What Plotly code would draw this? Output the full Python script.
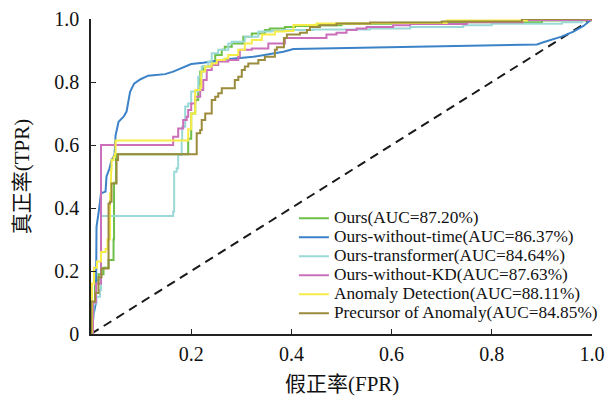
import plotly.graph_objects as go

# ---------------- data ----------------
names = [
    "Ours(AUC=87.20%)",
    "Ours-without-time(AUC=86.37%)",
    "Ours-transformer(AUC=84.64%)",
    "Ours-without-KD(AUC=87.63%)",
    "Anomaly Detection(AUC=88.11%)",
    "Precursor of Anomaly(AUC=84.85%)",
]
colors = ["#6dbf47", "#3b82c8", "#9bd9d6", "#cc6fba", "#f5ec4a", "#9b8b3c"]

ours_fpr = [0, 0.004, 0.008, 0.015, 0.025, 0.035, 0.045, 0.046, 0.05, 0.191, 0.194, 0.2, 0.208,
            0.214, 0.218, 0.224, 0.241, 0.248, 0.261, 0.267, 0.281, 0.304, 0.321, 0.347, 0.357,
            0.387, 0.407, 0.443, 0.5, 0.6, 0.75, 0.9, 1.0]
ours_tpr = [0, 0.1, 0.17, 0.19, 0.21, 0.235, 0.3, 0.48, 0.571, 0.571, 0.62, 0.7, 0.743,
            0.78, 0.833, 0.849, 0.865, 0.886, 0.902, 0.912, 0.922, 0.944, 0.954, 0.965, 0.97,
            0.975, 0.978, 0.98, 0.985, 0.988, 0.99, 0.995, 1.0]

wot_fpr = [0, 0.005, 0.01, 0.011, 0.016, 0.02, 0.029, 0.031, 0.037, 0.041, 0.047, 0.049, 0.055,
           0.065, 0.071, 0.075, 0.078, 0.086, 0.098, 0.114, 0.148, 0.164, 0.178, 0.2, 0.224,
           0.271, 0.324, 0.357, 0.384, 0.404, 0.444, 0.637, 0.89, 0.903, 0.916, 0.939, 0.963,
           0.983, 1.0]
wot_tpr = [0, 0.06, 0.1, 0.34, 0.395, 0.447, 0.452, 0.5, 0.526, 0.552, 0.568, 0.63, 0.674,
           0.69, 0.706, 0.743, 0.769, 0.795, 0.808, 0.82, 0.825, 0.833, 0.843, 0.857, 0.861,
           0.872, 0.88, 0.888, 0.896, 0.905, 0.906, 0.912, 0.919, 0.926, 0.933, 0.944, 0.96,
           0.978, 1.0]

tr_fpr = [0, 0.003, 0.005, 0.011, 0.018, 0.02, 0.162, 0.164, 0.166, 0.171, 0.174, 0.181, 0.182,
          0.188, 0.194, 0.2, 0.214, 0.221, 0.234, 0.241, 0.254, 0.274, 0.281, 0.307, 0.334,
          0.361, 0.383, 0.443, 0.557, 0.637, 0.743, 0.8, 0.94, 0.98, 1.0]
tr_tpr = [0, 0.05, 0.097, 0.118, 0.14, 0.375, 0.375, 0.389, 0.515, 0.526, 0.568, 0.616, 0.658,
          0.722, 0.732, 0.77, 0.817, 0.849, 0.865, 0.891, 0.902, 0.922, 0.928, 0.944, 0.96,
          0.963, 0.965, 0.967, 0.97, 0.975, 0.98, 0.985, 0.99, 1.0, 1.0]

kd_fpr = [0, 0.004, 0.01, 0.02, 0.162, 0.164, 0.174, 0.184, 0.191, 0.194, 0.2, 0.208, 0.218,
          0.224, 0.231, 0.241, 0.254, 0.274, 0.294, 0.297, 0.321, 0.354, 0.387, 0.47, 0.49,
          0.51, 0.53, 0.55, 0.603, 0.637, 0.75, 0.862, 1.0]
kd_tpr = [0, 0.1, 0.16, 0.6, 0.6, 0.626, 0.652, 0.679, 0.69, 0.711, 0.732, 0.753, 0.775,
          0.806, 0.838, 0.854, 0.865, 0.87, 0.88, 0.902, 0.906, 0.922, 0.94, 0.951, 0.956,
          0.965, 0.97, 0.975, 0.98, 0.984, 0.99, 0.997, 1.0]

ad_fpr = [0, 0.002, 0.006, 0.012, 0.02, 0.029, 0.033, 0.038, 0.04, 0.041, 0.045, 0.048, 0.049,
          0.184, 0.194, 0.2, 0.208, 0.218, 0.22, 0.228, 0.241, 0.251, 0.267, 0.274, 0.294,
          0.307, 0.321, 0.341, 0.367, 0.387, 0.404, 0.45, 0.557, 0.71, 0.87, 1.0]
ad_tpr = [0, 0.16, 0.21, 0.23, 0.26, 0.27, 0.3, 0.447, 0.52, 0.552, 0.563, 0.573, 0.614,
          0.614, 0.65, 0.7, 0.775, 0.785, 0.833, 0.849, 0.859, 0.87, 0.875, 0.886, 0.902,
          0.922, 0.933, 0.951, 0.96, 0.962, 0.981, 0.986, 0.987, 0.995, 1.0, 1.0]

pa_fpr = [0, 0.001, 0.008, 0.015, 0.021, 0.035, 0.038, 0.041, 0.051, 0.054, 0.211, 0.218, 0.221,
          0.228, 0.241, 0.248, 0.254, 0.261, 0.287, 0.294, 0.301, 0.307, 0.314, 0.334, 0.347,
          0.367, 0.371, 0.385, 0.391, 0.417, 0.431, 0.437, 0.457, 0.49, 0.557, 0.7, 0.86, 1.0]
pa_tpr = [0, 0.103, 0.13, 0.18, 0.208, 0.414, 0.42, 0.478, 0.552, 0.571, 0.637, 0.648, 0.679,
          0.7, 0.743, 0.753, 0.764, 0.78, 0.806, 0.817, 0.838, 0.849, 0.859, 0.87, 0.88,
          0.902, 0.91, 0.94, 0.951, 0.956, 0.965, 0.975, 0.98, 0.986, 0.989, 0.992, 1.0, 1.0]

diag_x = [0, 1]
diag_y = [0, 1]

x_ticks = [0.2, 0.4, 0.6, 0.8, 1.0]
x_ticktext = ["0.2", "0.4", "0.6", "0.8", "1.0"]
y_ticks = [0, 0.2, 0.4, 0.6, 0.8, 1.0]
y_ticktext = ["0", "0.2", "0.4", "0.6", "0.8", "1.0"]

series = [
    (ours_fpr, ours_tpr, "hv"),
    (wot_fpr, wot_tpr, "linear"),
    (tr_fpr, tr_tpr, "hv"),
    (kd_fpr, kd_tpr, "hv"),
    (ad_fpr, ad_tpr, "hv"),
    (pa_fpr, pa_tpr, "hv"),
]

SERIF = "Liberation Serif"
CJK = "Liberation Serif, Noto Sans CJK SC"

fig = go.Figure()
fig.add_trace(go.Scatter(x=diag_x, y=diag_y, mode="lines", showlegend=False,
                         line=dict(color="#1a1a1a", width=2, dash="9px,6px"), hoverinfo="skip"))
for (fx, ty, shape), name, col in zip(series, names, colors):
    fig.add_trace(go.Scatter(
        x=fx, y=ty, mode="lines", name='<span style="font-size:17.3px">' + name + "</span>",
        line=dict(color=col, width=2, shape=shape)))

axis_common = dict(range=[0, 1], showline=True, linecolor="#222", linewidth=1.5,
                   ticks="inside", ticklen=5, tickwidth=1.2, tickcolor="#222",
                   showgrid=False, zeroline=False, automargin=False,
                   tickfont=dict(family=SERIF, size=20, color="#111"))

fig.update_layout(
    template="none",
    width=606, height=403,
    margin=dict(l=91, r=14, t=19, b=69, autoexpand=False),
    paper_bgcolor="white", plot_bgcolor="white",
    font=dict(family=SERIF, color="#111"),
    showlegend=True,
    legend=dict(x=0.405, y=0.02, xanchor="left", yanchor="bottom",
                bgcolor="rgba(0,0,0,0)", borderwidth=0,
                font=dict(family=SERIF, size=12, color="#111"),
                tracegroupgap=0, itemwidth=30),
    xaxis=dict(axis_common, tickvals=x_ticks, ticktext=x_ticktext, ticklabelstandoff=1),
    yaxis=dict(axis_common, tickvals=y_ticks, ticktext=y_ticktext, ticklabelstandoff=6),
    annotations=[
        dict(text="假正率(FPR)", xref="paper", yref="paper", x=0.5, y=-0.16,
             xanchor="center", yanchor="middle", showarrow=False,
             font=dict(family=CJK, size=21, color="#111")),
        dict(text="真正率(TPR)", xref="paper", yref="paper", x=-0.138, y=0.5,
             xanchor="center", yanchor="middle", showarrow=False, textangle=-90,
             font=dict(family=CJK, size=21, color="#111")),
    ],
)

fig.write_html("out.html",
               config={"displayModeBar": False},
               post_script="document.body.style.margin='0';document.body.style.overflow='hidden';")
